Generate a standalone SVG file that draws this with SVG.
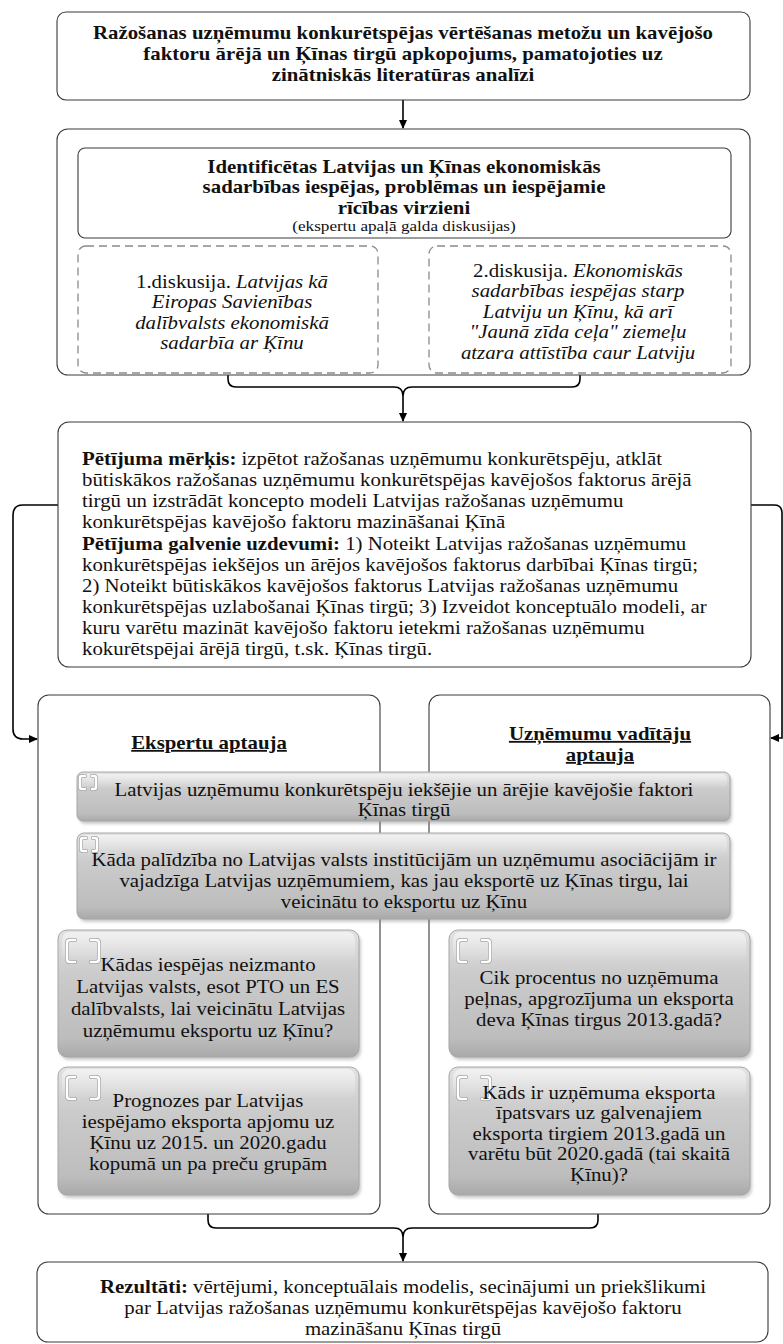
<svg xmlns="http://www.w3.org/2000/svg" width="783" height="1344" viewBox="0 0 783 1344">
  <style>
    text { font-family: "Liberation Serif", "Times New Roman", serif; font-size: 18.2px; fill: #111; }
    .c { text-anchor: middle; }
    .b { font-weight: bold; }
    .i { font-style: italic; }
    .sm { font-size: 15px; }
    .u { text-decoration: underline; }
    .box { fill: #fff; stroke: #3a3a3a; stroke-width: 1.1; }
    .dash { fill: #fff; stroke: #8a8a8a; stroke-width: 1.3; stroke-dasharray: 8 5; }
    .grey { fill: url(#gfill); stroke: #a6a6a6; stroke-width: 1; }
    .shadow { fill: #8c8c8c; opacity: 0.45; filter: url(#soft); }
    .gloss { fill: url(#gloss); }
    .icon { fill: none; stroke: #fff; stroke-width: 2.6; stroke-linecap: round; }
    .iconEdge { fill: none; stroke: #a0a0a0; stroke-width: 4; stroke-linecap: round; }
    .con { fill: none; stroke: #000; stroke-width: 1.6; }
  </style>
  <defs>
    <linearGradient id="gfill" x1="0" y1="0" x2="0" y2="1">
      <stop offset="0" stop-color="#e2e2e2"/>
      <stop offset="0.35" stop-color="#cbcbcb"/>
      <stop offset="0.85" stop-color="#bdbdbd"/>
      <stop offset="1" stop-color="#a9a9a9"/>
    </linearGradient>
    <linearGradient id="gloss" x1="0" y1="0" x2="0" y2="1">
      <stop offset="0" stop-color="#fff" stop-opacity="0.55"/>
      <stop offset="1" stop-color="#fff" stop-opacity="0"/>
    </linearGradient>
    <filter id="soft" x="-5%" y="-5%" width="110%" height="115%">
      <feGaussianBlur stdDeviation="1.5"/>
    </filter>
    <marker id="ah" markerWidth="9" markerHeight="8" refX="8" refY="4" orient="auto" markerUnits="userSpaceOnUse">
      <path d="M0,0 L9,4 L0,8 Z" fill="#000"/>
    </marker>
    <!-- bracket placeholder glyph used on the grey question boxes -->
    <g id="brk">
      <path class="iconEdge" d="M8,0 H3 Q0,0 0,3 V19 Q0,22 3,22 H8 M24,0 H29 Q32,0 32,3 V19 Q32,22 29,22 H24"/>
      <path class="icon" d="M8,0 H3 Q0,0 0,3 V19 Q0,22 3,22 H8 M24,0 H29 Q32,0 32,3 V19 Q32,22 29,22 H24"/>
    </g>
    <g id="brkS">
      <path class="iconEdge" d="M5,0 H2 Q0,0 0,2 V11 Q0,13 2,13 H5 M12,0 H14 Q16,0 16,2 V11 Q16,13 14,13 H12"/>
      <path class="icon" d="M5,0 H2 Q0,0 0,2 V11 Q0,13 2,13 H5 M12,0 H14 Q16,0 16,2 V11 Q16,13 14,13 H12"/>
    </g>
  </defs>

  <rect width="783" height="1344" fill="#fff"/>

  <!-- connectors -->
  <g id="connectors">
    <path class="con" d="M403,100 V128" marker-end="url(#ah)"/>
    <path class="con" d="M228,374 V379 Q228,387 236,387 H394 Q403,387 403,396 M580,374 V379 Q580,387 572,387 H412 Q403,387 403,396 V421" marker-end="url(#ah)"/>
    <path class="con" d="M58,505 H23 Q13,505 13,515 V729 Q13,739 23,739 H37" marker-end="url(#ah)"/>
    <path class="con" d="M751,505 H774 Q782,505 782,513 V738 H771" marker-end="url(#ah)"/>
    <path class="con" d="M208,1214 V1220 Q208,1228 216,1228 H394 Q403,1228 403,1237 M598,1214 V1220 Q598,1228 590,1228 H412 Q403,1228 403,1237 V1261" marker-end="url(#ah)"/>
  </g>

  <!-- source summary; text is set slightly wide (x scale 1.145) -->
  <g id="n-literature">
    <rect class="box" x="57" y="12" width="693" height="88" rx="9"/>
    <g transform="translate(403 0) scale(1.145 1)">
      <text class="c b" x="0" y="39">Ražošanas uzņēmumu konkurētspējas vērtēšanas metožu un kavējošo</text>
      <text class="c b" x="0" y="60">faktoru ārējā un Ķīnas tirgū apkopojums, pamatojoties uz</text>
      <text class="c b" x="0" y="81">zinātniskās literatūras analīzi</text>
    </g>
  </g>

  <!-- round-table discussions -->
  <g id="n-discussions">
    <rect class="box" x="57" y="129" width="693" height="246" rx="11"/>
    <rect class="box" x="78" y="148" width="653" height="90" rx="7"/>
    <g transform="translate(404 0) scale(1.145 1)">
      <text class="c b" x="0" y="173">Identificētas Latvijas un Ķīnas ekonomiskās</text>
      <text class="c b" x="0" y="193.5">sadarbības iespējas, problēmas un iespējamie</text>
      <text class="c b" x="0" y="214">rīcības virzieni</text>
      <text class="c sm" x="0" y="231.5">(ekspertu apaļā galda diskusijas)</text>
    </g>
  </g>
  <g id="n-discussion1">
    <rect class="dash" x="78" y="246" width="300" height="127" rx="8"/>
    <g transform="translate(232 0) scale(1.145 1)">
      <text class="c" x="0" y="288">1.diskusija. <tspan class="i">Latvijas kā</tspan></text>
      <text class="c i" x="0" y="308.5">Eiropas Savienības</text>
      <text class="c i" x="0" y="329">dalībvalsts ekonomiskā</text>
      <text class="c i" x="0" y="349.5">sadarbīa ar Ķīnu</text>
    </g>
  </g>
  <g id="n-discussion2">
    <rect class="dash" x="429" y="246" width="302" height="127" rx="8"/>
    <g transform="translate(578 0) scale(1.145 1)">
      <text class="c" x="0" y="277">2.diskusija. <tspan class="i">Ekonomiskās</tspan></text>
      <text class="c i" x="0" y="297.5">sadarbības iespējas starp</text>
      <text class="c i" x="0" y="318">Latviju un Ķīnu, kā arī</text>
      <text class="c i" x="0" y="338.5">"Jaunā zīda ceļa" ziemeļu</text>
      <text class="c i" x="0" y="359">atzara attīstība caur Latviju</text>
    </g>
  </g>

  <!-- aim and tasks -->
  <g id="n-aim">
    <rect class="box" x="58" y="422" width="693" height="245" rx="11"/>
    <g transform="translate(82 0) scale(1.145 1)">
      <text x="0" y="465"><tspan class="b">Pētījuma mērķis:</tspan> izpētot ražošanas uzņēmumu konkurētspēju, atklāt</text>
      <text x="0" y="486">būtiskākos ražošanas uzņēmumu konkurētspējas kavējošos faktorus ārējā</text>
      <text x="0" y="507">tirgū un izstrādāt koncepto modeli Latvijas ražošanas uzņēmumu</text>
      <text x="0" y="528">konkurētspējas kavējošo faktoru mazināšanai Ķīnā</text>
      <text x="0" y="550"><tspan class="b">Pētījuma galvenie uzdevumi:</tspan> 1) Noteikt Latvijas ražošanas uzņēmumu</text>
      <text x="0" y="571">konkurētspējas iekšējos un ārējos kavējošos faktorus darbībai Ķīnas tirgū;</text>
      <text x="0" y="592">2) Noteikt būtiskākos kavējošos faktorus Latvijas ražošanas uzņēmumu</text>
      <text x="0" y="613">konkurētspējas uzlabošanai Ķīnas tirgū; 3) Izveidot konceptuālo modeli, ar</text>
      <text x="0" y="634">kuru varētu mazināt kavējošo faktoru ietekmi ražošanas uzņēmumu</text>
      <text x="0" y="655">kokurētspējai ārējā tirgū, t.sk. Ķīnas tirgū.</text>
    </g>
  </g>

  <!-- survey columns -->
  <g id="n-experts">
    <rect class="box" x="38" y="695" width="342" height="519" rx="11"/>
    <g transform="translate(209 0) scale(1.145 1)">
      <text class="c b u" x="0" y="749">Ekspertu aptauja</text>
    </g>
  </g>
  <g id="n-managers">
    <rect class="box" x="429" y="695" width="341" height="519" rx="11"/>
    <g transform="translate(600 0) scale(1.145 1)">
      <text class="c b u" x="0" y="740">Uzņēmumu vadītāju</text>
      <text class="c b u" x="0" y="761">aptauja</text>
    </g>
  </g>

  <!-- shared questions -->
  <g id="n-q-factors">
    <rect class="shadow" x="79" y="775" width="653" height="49" rx="6"/>
    <rect class="grey" x="77" y="772" width="653" height="49" rx="6"/>
    <rect class="gloss" x="80" y="774" width="647" height="14" rx="5"/>
    <use href="#brkS" x="80" y="776"/>
    <g transform="translate(404 0) scale(1.145 1)">
      <text class="c" x="0" y="796">Latvijas uzņēmumu konkurētspēju iekšējie un ārējie kavējošie faktori</text>
      <text class="c" x="0" y="816">Ķīnas tirgū</text>
    </g>
  </g>
  <g id="n-q-support">
    <rect class="shadow" x="79" y="836" width="653" height="86" rx="7"/>
    <rect class="grey" x="77" y="833" width="653" height="86" rx="7"/>
    <rect class="gloss" x="80" y="835" width="647" height="20" rx="6"/>
    <use href="#brkS" x="81" y="838"/>
    <g transform="translate(404 0) scale(1.145 1)">
      <text class="c" x="0" y="866">Kāda palīdzība no Latvijas valsts institūcijām un uzņēmumu asociācijām ir</text>
      <text class="c" x="0" y="887">vajadzīga Latvijas uzņēmumiem, kas jau eksportē uz Ķīnas tirgu, lai</text>
      <text class="c" x="0" y="908">veicinātu to eksportu uz Ķīnu</text>
    </g>
  </g>

  <!-- expert-only questions -->
  <g id="n-q-opportunities">
    <rect class="shadow" x="60" y="933" width="301" height="127" rx="9"/>
    <rect class="grey" x="58" y="930" width="301" height="127" rx="9"/>
    <rect class="gloss" x="62" y="932" width="293" height="30" rx="8"/>
    <use href="#brk" x="67" y="940"/>
    <g transform="translate(208 0) scale(1.145 1)">
      <text class="c" x="0" y="971">Kādas iespējas neizmanto</text>
      <text class="c" x="0" y="993">Latvijas valsts, esot PTO un ES</text>
      <text class="c" x="0" y="1015">dalībvalsts, lai veicinātu Latvijas</text>
      <text class="c" x="0" y="1037">uzņēmumu eksportu uz Ķīnu?</text>
    </g>
  </g>
  <g id="n-q-forecast">
    <rect class="shadow" x="60" y="1070" width="301" height="128" rx="9"/>
    <rect class="grey" x="58" y="1067" width="301" height="128" rx="9"/>
    <rect class="gloss" x="62" y="1069" width="293" height="30" rx="8"/>
    <use href="#brk" x="67" y="1077"/>
    <g transform="translate(208 0) scale(1.145 1)">
      <text class="c" x="0" y="1107">Prognozes  par Latvijas</text>
      <text class="c" x="0" y="1128">iespējamo eksporta apjomu uz</text>
      <text class="c" x="0" y="1149">Ķīnu uz 2015. un 2020.gadu</text>
      <text class="c" x="0" y="1170">kopumā un pa preču grupām</text>
    </g>
  </g>

  <!-- manager-only questions -->
  <g id="n-q-share">
    <rect class="shadow" x="451" y="933" width="301" height="127" rx="9"/>
    <rect class="grey" x="449" y="930" width="301" height="127" rx="9"/>
    <rect class="gloss" x="453" y="932" width="293" height="30" rx="8"/>
    <use href="#brk" x="458" y="940"/>
    <g transform="translate(599 0) scale(1.145 1)">
      <text class="c" x="0" y="984">Cik procentus no uzņēmuma</text>
      <text class="c" x="0" y="1005">peļnas, apgrozījuma un eksporta</text>
      <text class="c" x="0" y="1026">deva Ķīnas tirgus 2013.gadā?</text>
    </g>
  </g>
  <g id="n-q-markets">
    <rect class="shadow" x="451" y="1070" width="301" height="128" rx="9"/>
    <rect class="grey" x="449" y="1067" width="301" height="128" rx="9"/>
    <rect class="gloss" x="453" y="1069" width="293" height="30" rx="8"/>
    <use href="#brk" x="458" y="1077"/>
    <g transform="translate(599 0) scale(1.145 1)">
      <text class="c" x="0" y="1099">Kāds ir uzņēmuma eksporta</text>
      <text class="c" x="0" y="1119.5">īpatsvars uz galvenajiem</text>
      <text class="c" x="0" y="1140">eksporta tirgiem 2013.gadā un</text>
      <text class="c" x="0" y="1160.5">varētu būt 2020.gadā (tai skaitā</text>
      <text class="c" x="0" y="1181">Ķīnu)?</text>
    </g>
  </g>

  <!-- results -->
  <g id="n-results">
    <rect class="box" x="37" y="1262" width="731" height="80" rx="11"/>
    <g transform="translate(403 0) scale(1.145 1)">
      <text class="c" x="0" y="1293"><tspan class="b">Rezultāti:</tspan> vērtējumi, konceptuālais modelis, secinājumi un priekšlikumi</text>
      <text class="c" x="0" y="1314">par Latvijas ražošanas uzņēmumu konkurētspējas kavējošo faktoru</text>
      <text class="c" x="0" y="1335">mazināšanu Ķīnas tirgū</text>
    </g>
  </g>
</svg>
